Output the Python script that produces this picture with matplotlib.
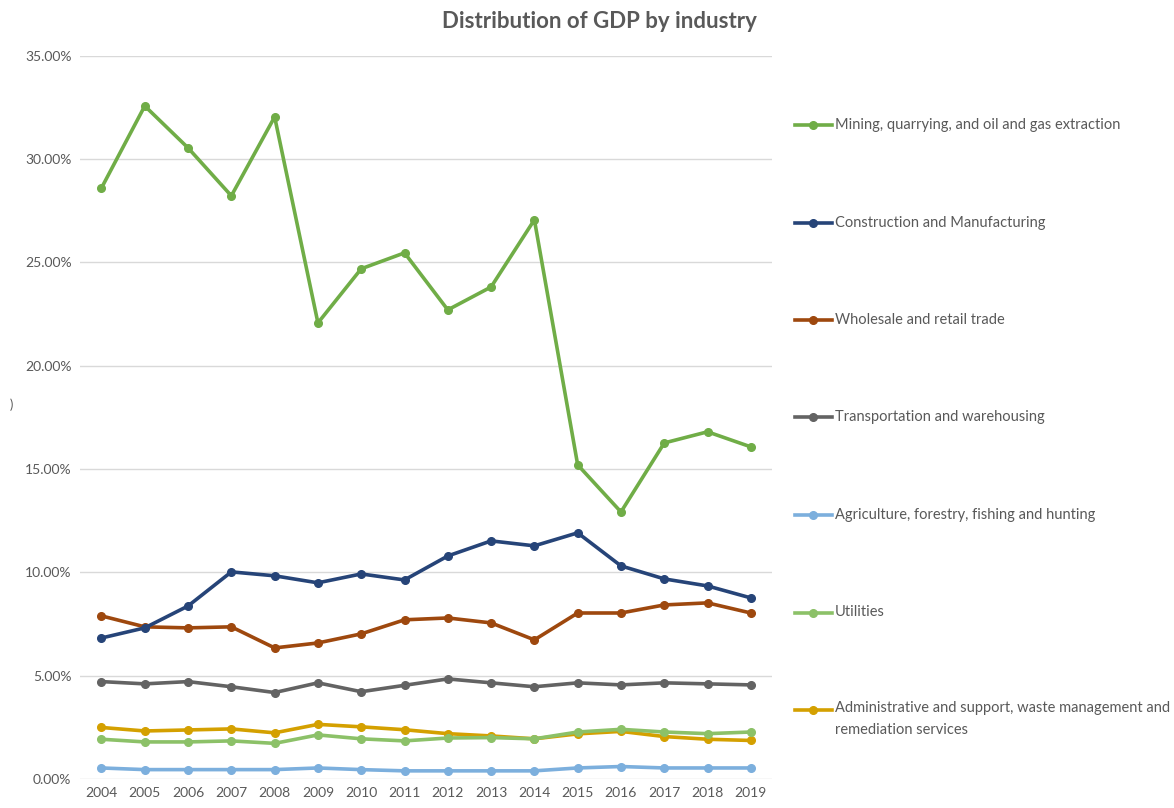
import matplotlib
matplotlib.use('Agg')
import matplotlib.pyplot as plt
from matplotlib.lines import Line2D
from matplotlib.ticker import PercentFormatter

plt.rcParams['font.family'] = ['Lato', 'DejaVu Sans']

years = [str(y) for y in range(2004, 2020)]

mining = [28.60, 32.57, 30.54, 28.22, 32.04, 22.07, 24.69, 25.46,
          22.70, 23.81, 27.06, 15.20, 12.92, 16.26, 16.80, 16.07]
construction = [6.82, 7.31, 8.37, 10.02, 9.83, 9.49, 9.92, 9.63,
                10.79, 11.52, 11.28, 11.91, 10.31, 9.68, 9.34, 8.76]
wholesale = [7.89, 7.36, 7.31, 7.36, 6.34, 6.58, 7.02, 7.70,
             7.79, 7.55, 6.73, 8.03, 8.03, 8.42, 8.52, 8.03]
transport = [4.71, 4.60, 4.71, 4.46, 4.18, 4.65, 4.22, 4.53,
             4.84, 4.65, 4.46, 4.65, 4.55, 4.65, 4.60, 4.55]
agriculture = [0.53, 0.45, 0.45, 0.45, 0.45, 0.53, 0.45, 0.39,
               0.39, 0.39, 0.39, 0.53, 0.60, 0.53, 0.53, 0.53]
utilities = [1.92, 1.79, 1.79, 1.84, 1.72, 2.13, 1.94, 1.84,
             1.98, 2.00, 1.94, 2.27, 2.40, 2.27, 2.19, 2.27]
admin = [2.49, 2.32, 2.37, 2.42, 2.23, 2.64, 2.52, 2.38,
         2.19, 2.08, 1.94, 2.18, 2.30, 2.05, 1.92, 1.86]

series = [
    ("Mining, quarrying, and oil and gas extraction", mining, "#70AD47"),
    ("Construction and Manufacturing", construction, "#264478"),
    ("Wholesale and retail trade", wholesale, "#9E480E"),
    ("Transportation and warehousing", transport, "#636363"),
    ("Agriculture, forestry, fishing and hunting", agriculture, "#7CAFDD"),
    ("Utilities", utilities, "#8CC168"),
    ("Administrative and support, waste management and\nremediation services", admin, "#D4A000"),
]

text_col = "#595959"
lw, ms = 2.6, 5.5

fig = plt.figure(figsize=(11.74, 8.08), dpi=100)
ax = fig.add_axes([0.068, 0.036, 0.590, 0.895])

x = list(range(len(years)))
# draw back to front so the big series sits on top
for name, vals, col in reversed(series):
    ax.plot(x, vals, color=col, lw=lw, marker='o', ms=ms, label=name,
            solid_capstyle='round', zorder=3)

ax.set_xlim(-0.5, len(years) - 0.5)
ax.set_ylim(0, 35)
ax.set_yticks(range(0, 36, 5))
ax.yaxis.set_major_formatter(PercentFormatter(decimals=2))
ax.set_xticks(x)
ax.set_xticklabels(years)
ax.grid(axis='y', color='#d9d9d9', lw=1)
ax.set_axisbelow(True)
for s in ax.spines.values():
    s.set_visible(False)
ax.tick_params(length=0, colors=text_col, labelsize=10, pad=6)

fig.text(0.511, 0.973, "Distribution of GDP by industry", ha='center', va='center',
         fontsize=16, fontweight='bold', color=text_col)
fig.text(0.010, 0.499, ")", ha='center', va='center', fontsize=9, color=text_col)

# legend down the right side
W, H = fig.get_size_inches() * fig.dpi
for i, (name, vals, col) in enumerate(series):
    yp = 1 - (125 + i * 97.5) / H
    fig.add_artist(Line2D([795 / W, 832 / W], [yp, yp], color=col, lw=lw,
                          transform=fig.transFigure))
    fig.add_artist(Line2D([813 / W], [yp], color=col, marker='o', ms=ms,
                          transform=fig.transFigure))
    if '\n' in name:
        fig.text(835 / W, yp + 9 / H, name, ha='left', va='top', fontsize=10.5,
                 color=text_col, linespacing=1.75)
    else:
        fig.text(835 / W, yp, name, ha='left', va='center', fontsize=10.5,
                 color=text_col)

fig.savefig('out.png', dpi=100)
